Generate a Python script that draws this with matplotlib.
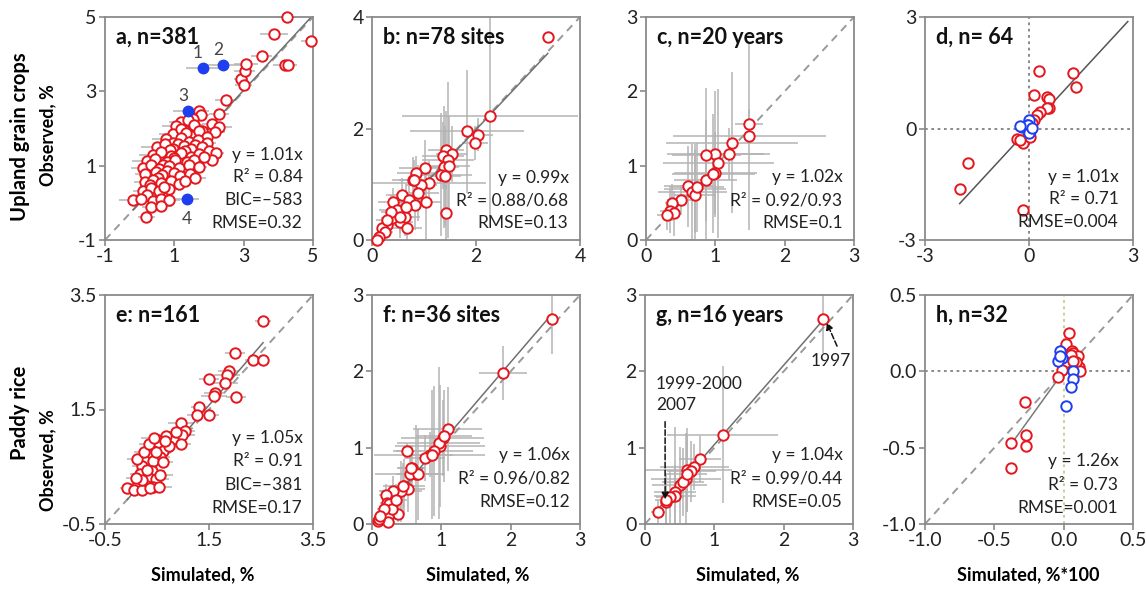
import matplotlib.pyplot as plt

plt.rcParams['font.family'] = ['Lato', 'DejaVu Sans']

RED = '#e5161d'
BLUE = '#1e3ef0'
BAR_GREY = '#b4b4b4'
SPINE_GREY = '#8a8a8a'
W, H = 1146, 590

####################
#   Panel a data   #
####################
a_sim = [2.48, 2.93, 3.00, 3.03, 3.07, 3.52, 4.20, 4.27, 3.87, 4.24, 4.94,
         1.71, 1.76, 2.29, 1.55, 2.10, 2.30, 1.20, 1.40,
         1.05, 1.29, 1.57, 1.81, 2.17, 0.95, 1.19, 1.48, 1.71, 1.95, 1.35,
         0.76, 0.95, 1.19, 1.43, 1.67, 1.95, 1.10, 1.60,
         0.50, 0.74, 0.97, 1.27, 1.49, 1.79, 2.00, 0.88, 1.32,
         0.38, 0.62, 0.90, 1.19, 1.48, 1.71, 2.19, 1.00,
         0.22, 0.45, 0.79, 1.02, 1.36, 1.58, 2.08, 1.85, 0.66,
         0.10, 0.33, 0.57, 0.86, 1.14, 1.43, 1.70, 0.80,
         0.16, 0.46, 0.64, 0.98, 1.16, 1.45, 1.60, 0.52,
         0.14, 0.38, 0.62, 0.90, 1.14, 1.30, 0.30,
         0.10, 0.33, 0.57, 0.86, 0.70, 0.20,
         -0.19, 0.05, 0.38, 0.62, 0.86, 0.33, 0.62, 0.19]
a_obs = [2.76, 3.32, 3.16, 3.55, 3.73, 3.94, 3.72, 3.70, 4.54, 5.00, 4.35,
         2.48, 2.37, 2.39, 2.26, 2.12, 2.04, 2.18, 2.22,
         2.06, 1.97, 2.10, 1.94, 1.90, 1.84, 1.99, 1.81, 1.93, 1.76, 1.88,
         1.72, 1.62, 1.75, 1.65, 1.69, 1.60, 1.57, 1.55,
         1.50, 1.58, 1.46, 1.52, 1.44, 1.49, 1.40, 1.42, 1.39,
         1.30, 1.37, 1.27, 1.33, 1.24, 1.31, 1.34, 1.21,
         1.13, 1.19, 1.09, 1.16, 1.10, 1.14, 1.16, 1.23, 1.02,
         0.95, 1.01, 0.91, 0.99, 0.93, 1.01, 0.96, 0.86,
         0.78, 0.84, 0.74, 0.80, 0.72, 0.77, 0.68, 0.66,
         0.55, 0.62, 0.53, 0.60, 0.52, 0.58, 0.47,
         0.33, 0.40, 0.31, 0.38, 0.43, 0.22,
         0.08, 0.10, 0.06, 0.09, 0.07, -0.10, -0.08, -0.37]
a_xerr = [0.3, 0.2, 0.25, 0.3, 0.35, 0.3, 0.35, 0.2, 0.4, 0.3, 0.3,
          0.3, 0.25, 0.3, 0.2, 0.3, 0.35, 0.35, 0.2,
          0.4, 0.3, 0.25, 0.3, 0.3, 0.4, 0.3, 0.35, 0.2, 0.3, 0.3,
          0.4, 0.3, 0.25, 0.3, 0.3, 0.25, 0.3, 0.3,
          0.45, 0.3, 0.35, 0.3, 0.25, 0.3, 0.2, 0.3, 0.3,
          0.4, 0.35, 0.3, 0.35, 0.3, 0.25, 0.25, 0.3,
          0.45, 0.3, 0.35, 0.3, 0.3, 0.25, 0.2, 0.3, 0.35,
          0.35, 0.3, 0.4, 0.3, 0.35, 0.3, 0.25, 0.3,
          0.3, 0.35, 0.3, 0.4, 0.3, 0.25, 0.3, 0.3,
          0.3, 0.35, 0.3, 0.3, 0.35, 0.3, 0.3,
          0.3, 0.3, 0.35, 0.3, 0.3, 0.3,
          0.4, 0.3, 0.35, 0.3, 0.3, 0.25, 0.3, 0.25]
a_blue_sim = [1.83, 2.41, 1.40, 1.36]
a_blue_obs = [3.62, 3.71, 2.47, 0.11]
a_blue_xerr = [0.5, 0.6, 0.45, 0.35]
a_blue_names = ['1', '2', '3', '4']

####################
#   Panel b data   #
####################
b_sim = [3.38, 2.27, 1.83, 2.03, 1.98, 1.42, 1.54, 1.36, 1.46, 1.38,
         1.33, 1.02, 1.10, 0.84, 0.79, 0.95, 0.89, 1.03, 0.57, 0.71,
         0.41, 0.83, 0.48, 0.54, 0.63, 0.38, 0.29, 0.19, 0.67, 0.25,
         0.13, 1.43, 0.09, 0.65, 0.37, 0.28, 0.53, 1.49, 0.81, 1.41]
b_obs = [3.65, 2.22, 1.95, 1.89, 1.74, 1.62, 1.54, 1.51, 1.43, 1.31,
         1.17, 1.30, 1.02, 1.21, 1.08, 0.99, 0.84, 0.69, 0.81, 0.72,
         0.69, 0.63, 0.54, 0.33, 0.42, 0.40, 0.27, 0.21, 0.21, 0.15,
         0.05, 0.48, 0.00, 0.60, 0.51, 0.36, 0.42, 1.33, 1.08, 1.15]
b_xerr = [0.0, 1.7, 1.1, 0.3, 0.25, 0.35, 0.3, 0.4, 0.5, 0.3,
          0.6, 0.5, 1.1, 0.35, 0.4, 0.3, 0.4, 0.3, 0.3, 0.35,
          0.3, 0.3, 0.35, 0.25, 0.3, 0.2, 0.15, 0.1, 0.3, 0.15,
          0.1, 0.1, 0.05, 0.3, 0.2, 0.2, 0.25, 0.4, 0.3, 0.3]
b_yerr = [0.0, 1.8, 1.1, 0.3, 0.3, 0.7, 0.5, 0.6, 1.4, 1.1,
          1.1, 0.5, 0.4, 0.3, 0.4, 0.35, 0.5, 0.7, 0.3, 0.4,
          0.25, 0.45, 0.3, 0.3, 0.35, 0.2, 0.2, 0.15, 0.3, 0.1,
          0.05, 0.5, 0.05, 0.4, 0.3, 0.2, 0.3, 0.9, 0.35, 0.9]

####################
#   Panel c data   #
####################
c_sim = [1.49, 1.49, 1.24, 1.19, 1.00, 0.87, 1.04, 1.00, 0.86, 0.71,
         0.61, 0.67, 0.70, 0.50, 0.38, 0.35, 0.41, 0.31, 0.73, 0.97]
c_obs = [1.56, 1.40, 1.31, 1.16, 1.16, 1.15, 1.03, 0.90, 0.81, 0.69,
         0.72, 0.64, 0.61, 0.54, 0.50, 0.39, 0.36, 0.33, 0.71, 0.89]
c_xerr = [0.2, 1.1, 0.95, 0.6, 0.7, 0.5, 0.8, 0.6, 0.45, 0.45,
          0.35, 0.5, 0.3, 0.2, 0.1, 0.15, 0.1, 0.15, 0.4, 0.6]
c_yerr = [0.2, 1.27, 0.95, 0.35, 0.85, 0.9, 1.0, 0.55, 0.8, 0.6,
          0.55, 0.65, 0.6, 0.2, 0.25, 0.3, 0.3, 0.2, 0.6, 0.8]

####################
#   Panel d data   #
####################
d_sim = [0.29, 1.28, 1.36, 0.13, 0.51, 0.58, 0.58, 0.51, 0.32, 0.22,
         0.13, -1.75, -1.99, -0.18, -0.36, -0.16, 0.03, 0.10, -0.25]
d_obs = [1.56, 1.49, 1.13, 0.89, 0.85, 0.80, 0.56, 0.54, 0.45, 0.36,
         0.24, -0.93, -1.64, -2.19, -0.29, -0.40, -0.22, 0.15, -0.30]
d_blue_sim = [0.00, -0.07, -0.21, 0.03, -0.02, -0.26, 0.01, 0.08]
d_blue_obs = [0.24, 0.09, 0.05, -0.08, 0.09, 0.06, -0.13, 0.02]
d_fit_range = [-2.0, 2.85]

####################
#   Panel e data   #
####################
e_sim = [2.54, 2.00, 2.35, 2.54, 1.88, 1.85, 1.50, 1.80, 1.61, 1.60,
         2.02, 1.31, 1.27, 1.50, 0.96, 1.03, 0.98, 0.81, 0.96, 0.51,
         0.51, 0.61, 0.42, 0.55, 0.37, 0.27, 0.42, 0.61, 0.21, 0.40,
         0.18, 0.34, 0.49, 0.14, 0.30, 0.42, -0.07, 0.05, 0.21, 0.37,
         0.53, 0.21, 0.73, 0.67, 0.48, 0.86, 0.12, 0.25, 0.30, 0.55,
         0.65, 0.10, 0.35, 0.45]
e_obs = [3.04, 2.49, 2.36, 2.37, 2.18, 2.11, 2.03, 1.97, 1.78, 1.73,
         1.72, 1.55, 1.41, 1.41, 1.27, 1.12, 1.05, 0.98, 0.89, 0.97,
         0.89, 0.78, 0.78, 0.67, 0.70, 0.60, 0.60, 0.59, 0.51, 0.43,
         0.37, 0.31, 0.29, 0.20, 0.17, 0.14, 0.13, 0.10, 0.09, 0.13,
         0.14, 0.26, 0.86, 1.04, 0.75, 1.10, 0.63, 0.75, 0.45, 0.35,
         0.95, 0.30, 0.90, 1.00]
e_xerr = [0.15, 0.2, 0.15, 0.1, 0.2, 0.25, 0.2, 0.25, 0.2, 0.25,
          0.2, 0.15, 0.2, 0.2, 0.25, 0.2, 0.25, 0.2, 0.2, 0.2,
          0.25, 0.2, 0.25, 0.2, 0.2, 0.2, 0.25, 0.2, 0.2, 0.25,
          0.2, 0.2, 0.25, 0.2, 0.2, 0.25, 0.15, 0.2, 0.2, 0.2,
          0.25, 0.2, 0.25, 0.2, 0.2, 0.25, 0.2, 0.2, 0.2, 0.25,
          0.2, 0.2, 0.2, 0.25]

####################
#   Panel f data   #
####################
f_sim = [2.59, 1.89, 1.09, 1.02, 0.98, 0.96, 0.90, 0.83, 0.76, 0.87,
         0.50, 0.64, 0.55, 0.57, 0.46, 0.52, 0.42, 0.30, 0.20, 0.21,
         0.27, 0.19, 0.38, 0.23, 0.08, 0.23, 0.66, 0.56, 0.45, 0.24,
         0.29, 0.17, 0.10, 1.04, 0.35, 0.12]
f_obs = [2.68, 1.98, 1.24, 1.13, 1.02, 1.06, 0.96, 0.91, 0.86, 0.91,
         0.96, 0.65, 0.65, 0.74, 0.50, 0.46, 0.43, 0.43, 0.38, 0.28,
         0.22, 0.19, 0.13, 0.09, 0.04, 0.02, 0.65, 0.73, 0.50, 0.26,
         0.20, 0.20, 0.06, 1.15, 0.32, 0.10]
f_xerr = [0.05, 0.35, 0.5, 0.6, 0.65, 0.6, 0.55, 0.8, 0.3, 0.3,
          0.2, 0.3, 0.5, 0.2, 0.3, 0.25, 0.3, 0.2, 0.1, 0.1,
          0.15, 0.1, 0.1, 0.1, 0.05, 0.1, 0.3, 0.2, 0.2, 0.1,
          0.1, 0.1, 0.05, 0.4, 0.15, 0.05]
f_yerr = [0.45, 0.35, 0.55, 0.5, 0.8, 1.0, 0.85, 0.3, 0.3, 0.85,
          0.1, 0.65, 0.25, 0.3, 0.35, 0.3, 0.4, 0.2, 0.15, 0.15,
          0.15, 0.1, 0.1, 0.1, 0.05, 0.05, 0.6, 0.3, 0.3, 0.1,
          0.15, 0.1, 0.05, 0.6, 0.2, 0.05]

####################
#   Panel g data   #
####################
g_sim = [2.57, 1.12, 0.79, 0.71, 0.60, 0.59, 0.50, 0.43, 0.43, 0.36,
         0.31, 0.30, 0.19, 0.67, 0.55, 0.60]
g_obs = [2.69, 1.17, 0.85, 0.75, 0.71, 0.59, 0.51, 0.42, 0.37, 0.36,
         0.29, 0.31, 0.16, 0.69, 0.55, 0.66]
g_xerr = [0.0, 0.8, 0.3, 0.5, 0.65, 0.5, 0.4, 0.3, 0.3, 0.2,
          0.1, 0.15, 0.1, 0.35, 0.3, 0.3]
g_yerr = [0.45, 0.9, 0.3, 0.3, 0.55, 0.6, 0.5, 0.85, 0.4, 0.35,
          0.3, 0.35, 0.15, 0.4, 0.45, 0.5]

####################
#   Panel h data   #
####################
h_sim = [-0.28, -0.38, -0.38, -0.27, -0.27, 0.04, 0.02, 0.06, 0.07, 0.10,
         0.11, 0.09, 0.05, 0.02, -0.01, -0.04, 0.07, 0.12]
h_obs = [-0.20, -0.47, -0.63, -0.42, -0.49, 0.25, 0.18, 0.13, 0.12, 0.10,
         0.03, 0.06, 0.11, 0.06, 0.01, -0.04, 0.07, 0.00]
h_blue_sim = [-0.03, -0.01, -0.04, 0.07, 0.07, 0.05, 0.02, -0.03]
h_blue_obs = [0.13, 0.09, 0.07, 0.00, -0.05, -0.10, -0.23, 0.10]
h_fit_range = [-0.38, 0.0]


def make_axes(fig, left_px, top_px, bottom_px, width_px=208):
    return fig.add_axes([left_px / W, 1 - bottom_px / H,
                         width_px / W, (bottom_px - top_px) / H])


def style_axes(ax, lim, ticks, labels):
    ax.set_xlim(lim)
    ax.set_ylim(lim)
    ax.set_xticks(ticks, labels)
    ax.set_yticks(ticks, labels)
    for s in ax.spines.values():
        s.set_color(SPINE_GREY)
        s.set_linewidth(1.3)
    ax.tick_params(length=4, width=1.2, color=SPINE_GREY, labelsize=14,
                   labelcolor='#222222', pad=2)


def open_points(ax, x, y, color=RED, xerr=None, yerr=None):
    if xerr is not None or yerr is not None:
        ax.errorbar(x, y, xerr=xerr, yerr=yerr, fmt='none', ecolor=BAR_GREY,
                    elinewidth=1.1, zorder=1)
    ax.plot(x, y, 'o', ms=7.5, mfc='white', mec=color, mew=1.4, ls='none',
            zorder=3, clip_on=False)


def one_to_one(ax, lim):
    ax.plot(lim, lim, color='#9a9a9a', lw=1.4, ls=(0, (4, 3)), zorder=2)


def fit_line(ax, slope, x0, x1, color='#707070'):
    ax.plot([x0, x1], [slope * x0, slope * x1], '-', color=color, lw=1.1,
            zorder=2)


def panel_text(ax, title, lines, right, y0, step=0.102):
    ax.text(0.055, 0.91, title, transform=ax.transAxes, fontsize=15.5,
            fontweight='bold', ha='left', va='center', color='#111111')
    for i, s in enumerate(reversed(lines)):
        ax.text(right, y0 + i * step, s, transform=ax.transAxes, fontsize=12.5,
                ha='right', va='center', color='#222222')


fig = plt.figure(figsize=(W / 100, H / 100), dpi=100)

TOP, BOT = (17, 240), (295, 524)

# a
ax = make_axes(fig, 105, *TOP)
style_axes(ax, (-1, 5), [-1, 1, 3, 5], ['-1', '1', '3', '5'])
one_to_one(ax, (-1, 5))
fit_line(ax, 1.01, min(a_sim), max(a_sim))
open_points(ax, a_sim, a_obs, xerr=a_xerr)
ax.errorbar(a_blue_sim, a_blue_obs, xerr=a_blue_xerr, fmt='none',
            ecolor=BAR_GREY, elinewidth=1.1, zorder=1)
ax.plot(a_blue_sim, a_blue_obs, 'o', ms=7.5, color=BLUE, ls='none', zorder=4)
for i, name in enumerate(a_blue_names):
    off = (0, -20) if i == 3 else (-5, 15)
    ax.annotate(name, (a_blue_sim[i], a_blue_obs[i]), xytext=off,
                textcoords='offset pixels', fontsize=12.5, color='#444444',
                ha='center', va='center')
panel_text(ax, 'a, n=381', ['y = 1.01x', 'R² = 0.84', 'BIC=–583', 'RMSE=0.32'],
           0.95, 0.077)

# b
ax = make_axes(fig, 372, *TOP)
style_axes(ax, (0, 4), [0, 2, 4], ['0', '2', '4'])
one_to_one(ax, (0, 4))
fit_line(ax, 0.99, 0, max(b_sim))
open_points(ax, b_sim, b_obs, xerr=b_xerr, yerr=b_yerr)
panel_text(ax, 'b: n=78 sites', ['y = 0.99x', 'R² = 0.88/0.68', 'RMSE=0.13'],
           0.945, 0.075)

# c
ax = make_axes(fig, 646, *TOP)
style_axes(ax, (0, 3), [0, 1, 2, 3], ['0', '1', '2', '3'])
one_to_one(ax, (0, 3))
open_points(ax, c_sim, c_obs, xerr=c_xerr, yerr=c_yerr)
panel_text(ax, 'c, n=20 years', ['y = 1.02x', 'R² = 0.92/0.93', 'RMSE=0.1'],
           0.945, 0.077)

# d
ax = make_axes(fig, 925, *TOP)
style_axes(ax, (-3, 3), [-3, 0, 3], ['-3', '0', '3'])
ax.axhline(0, color='#808080', lw=1.3, ls=(0, (1.5, 2)), zorder=1)
ax.axvline(0, color='#808080', lw=1.3, ls=(0, (1.5, 2)), zorder=1)
fit_line(ax, 1.01, d_fit_range[0], d_fit_range[1], color='#555555')
open_points(ax, d_sim, d_obs)
open_points(ax, d_blue_sim, d_blue_obs, color=BLUE)
panel_text(ax, 'd, n= 64', ['y = 1.01x', 'R² = 0.71', 'RMSE=0.004'],
           0.93, 0.08)

# e
ax = make_axes(fig, 105, *BOT)
style_axes(ax, (-0.5, 3.5), [-0.5, 1.5, 3.5], ['-0.5', '1.5', '3.5'])
one_to_one(ax, (-0.5, 3.5))
fit_line(ax, 1.05, min(e_sim), max(e_sim))
open_points(ax, e_sim, e_obs, xerr=e_xerr)
panel_text(ax, 'e: n=161', ['y = 1.05x', 'R² = 0.91', 'BIC=–381', 'RMSE=0.17'],
           0.95, 0.07)

# f
ax = make_axes(fig, 372, *BOT)
style_axes(ax, (0, 3), [0, 1, 2, 3], ['0', '1', '2', '3'])
one_to_one(ax, (0, 3))
fit_line(ax, 1.06, 0, max(f_sim))
open_points(ax, f_sim, f_obs, xerr=f_xerr, yerr=f_yerr)
panel_text(ax, 'f: n=36 sites', ['y = 1.06x', 'R² = 0.96/0.82', 'RMSE=0.12'],
           0.95, 0.096)

# g
ax = make_axes(fig, 645, *BOT)
style_axes(ax, (0, 3), [0, 1, 2, 3], ['0', '1', '2', '3'])
one_to_one(ax, (0, 3))
fit_line(ax, 1.04, min(g_sim), max(g_sim))
open_points(ax, g_sim, g_obs, xerr=g_xerr, yerr=g_yerr)
panel_text(ax, 'g, n=16 years', ['y = 1.04x', 'R² = 0.99/0.44', 'RMSE=0.05'],
           0.95, 0.096)
ax.text(2.68, 2.13, '1997', fontsize=12.5, color='#222222', ha='center',
        va='center')
ax.annotate('', xy=(2.62, 2.64), xytext=(2.77, 2.33),
            arrowprops=dict(arrowstyle='-|>', color='#111111', lw=1.1,
                            ls='--', shrinkA=0, shrinkB=0))
ax.text(0.16, 1.70, '1999-2000\n2007', fontsize=12.5, color='#222222',
        ha='left', va='center', linespacing=1.35)
ax.annotate('', xy=(0.29, 0.32), xytext=(0.29, 1.34),
            arrowprops=dict(arrowstyle='-|>', color='#111111', lw=1.1,
                            ls='--', shrinkA=0, shrinkB=0))

# h
ax = make_axes(fig, 925, *BOT)
style_axes(ax, (-1, 0.5), [-1, -0.5, 0, 0.5], ['-1.0', '-0.5', '0.0', '0.5'])
one_to_one(ax, (-1, 0.5))
ax.axhline(0, color='#808080', lw=1.3, ls=(0, (1.5, 2)), zorder=1)
ax.axvline(0, color='#c8c88a', lw=1.3, ls=(0, (1.5, 2)), zorder=1)
fit_line(ax, 1.26, h_fit_range[0], h_fit_range[1], color='#7a7a7a')
open_points(ax, h_sim, h_obs)
open_points(ax, h_blue_sim, h_blue_obs, color=BLUE)
panel_text(ax, 'h, n=32', ['y = 1.26x', 'R² = 0.73', 'RMSE=0.001'],
           0.93, 0.07)

# row and column labels
fig.text(20 / W, 1 - 137 / H, 'Upland grain crops', rotation=90, fontsize=14.5,
         fontweight='bold', ha='center', va='center')
fig.text(48 / W, 1 - 135 / H, 'Observed, %', rotation=90, fontsize=13,
         fontweight='bold', ha='center', va='center')
fig.text(20 / W, 1 - 413 / H, 'Paddy rice', rotation=90, fontsize=14.5,
         fontweight='bold', ha='center', va='center')
fig.text(48 / W, 1 - 460 / H, 'Observed, %', rotation=90, fontsize=13,
         fontweight='bold', ha='center', va='center')
for xc, lab in [(203, 'Simulated, %'), (478, 'Simulated, %'),
                (748, 'Simulated, %'), (1028, 'Simulated, %*100')]:
    fig.text(xc / W, 1 - 575 / H, lab, fontsize=13, fontweight='bold',
             ha='center', va='center')

plt.savefig('out.png', dpi=100)
